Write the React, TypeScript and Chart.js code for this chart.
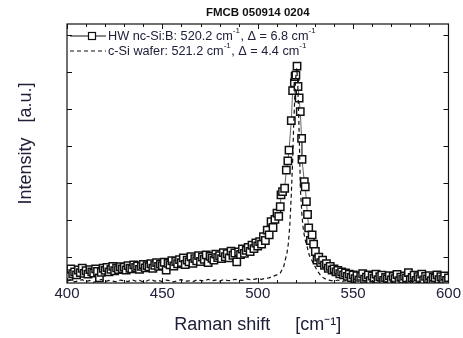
import React, { useEffect, useRef } from 'react';
import { Chart, registerables } from 'chart.js';

Chart.register(...registerables);

const TITLE = 'FMCB 050914 0204';
const X_TITLE = 'Raman shift     [cm\u207B\u00B9]';
const Y_TITLE = '    Intensity   [a.u.]';
const X_MIN = 400;
const X_MAX = 600;
const X_TICK_STEP = 50;
const X_MINOR_STEP = 10;
const Y_MIN = 0;
const Y_MAX = 7;
const Y_TICKS = [0.7, 1.7, 2.7, 3.7, 4.7, 5.7, 6.7];

const LEGEND_HW = ['HW nc-Si:B: 520.2 cm', '-1', ', \u0394 = 6.8 cm', '-1'];
const LEGEND_SI = ['c-Si wafer: 521.2 cm', '-1', ', \u0394 = 4.4 cm', '-1'];

const hwShift = [
  400, 401, 402, 403, 404, 405, 406, 407, 408, 409,
  410, 411, 412, 413, 414, 415, 416, 417, 418, 419,
  420, 421, 422, 423, 424, 425, 426, 427, 428, 429,
  430, 431, 432, 433, 434, 435, 436, 437, 438, 439,
  440, 441, 442, 443, 444, 445, 446, 447, 448, 449,
  450, 451, 452, 453, 454, 455, 456, 457, 458, 459,
  460, 461, 462, 463, 464, 465, 466, 467, 468, 469,
  470, 471, 472, 473, 474, 475, 476, 477, 478, 479,
  480, 481, 482, 483, 484, 485, 486, 487, 488, 489,
  490, 491, 492, 493, 494, 495, 496, 497, 498, 499,
  500, 501, 502, 503, 504, 505, 506, 507, 508, 509,
  510.1, 511.0, 511.8, 512.2, 513.0, 514.1, 515.0, 515.8, 516.4, 517.6,
  518.3, 519.2, 519.6, 520.0, 520.6, 521.1, 521.7, 522.3, 523.0, 523.2,
  524.4, 524.9, 525.5, 526.1, 526.7, 527.6, 528.5, 529.3, 530.2, 531.1,
  532, 533, 534, 535, 536, 537, 538, 539, 540, 541,
  542, 543, 544, 545, 546, 547, 548, 549, 550,
  551, 552, 553, 554, 555, 556, 557, 558, 559, 560,
  561, 562, 563, 564, 565, 566, 567, 568, 569, 570,
  571, 572, 573, 574, 575, 576, 577, 578, 579, 580,
  581, 582, 583, 584, 585, 586, 587, 588, 589, 590,
  591, 592, 593, 594, 595, 596, 597, 598, 599, 600,
];

const hwIntensity = [
  0.32, 0.18, 0.38, 0.25, 0.30, 0.22, 0.35, 0.28, 0.40, 0.26,
  0.33, 0.24, 0.36, 0.30, 0.27, 0.38, 0.31, 0.14, 0.29, 0.40,
  0.34, 0.42, 0.30, 0.37, 0.45, 0.33, 0.41, 0.36, 0.44, 0.38,
  0.43, 0.35, 0.47, 0.40, 0.38, 0.49, 0.42, 0.46, 0.37, 0.45,
  0.50, 0.41, 0.47, 0.44, 0.52, 0.40, 0.48, 0.55, 0.45, 0.51,
  0.47, 0.56, 0.35, 0.53, 0.49, 0.60, 0.46, 0.58, 0.52, 0.63,
  0.55, 0.68, 0.50, 0.62, 0.57, 0.71, 0.53, 0.66, 0.60, 0.74,
  0.58, 0.70, 0.64, 0.76, 0.55, 0.72, 0.67, 0.62, 0.78, 0.69,
  0.74, 0.66, 0.82, 0.71, 0.79, 0.68, 0.86, 0.75, 0.81, 0.57,
  0.84, 0.77, 0.92, 0.80, 0.88, 0.96, 0.85, 1.02, 0.93, 1.08,
  1.00, 1.12, 1.05, 1.25, 1.15, 1.43, 1.30, 1.66, 1.50, 1.72,
  1.89, 1.80, 2.06, 2.38, 2.47, 2.56, 3.05, 3.30, 3.59, 4.39,
  5.20, 5.41, 5.58, 5.62, 5.86, 5.31, 5.00, 4.63, 3.91, 3.34,
  2.74, 2.60, 2.20, 1.85, 1.49, 1.15, 1.30, 1.05, 0.85, 0.62,
  0.70, 0.55, 0.62, 0.48, 0.52, 0.40, 0.45, 0.35, 0.38, 0.30,
  0.34, 0.25, 0.30, 0.22, 0.27, 0.18, 0.24, 0.15, 0.22,
  0.12, 0.20, 0.08, 0.18, 0.25, 0.10, 0.16, 0.22, 0.06, 0.19,
  0.13, 0.24, 0.09, 0.17, 0.21, 0.07, 0.15, 0.11, 0.20, 0.08,
  0.18, 0.12, 0.23, 0.06, 0.16, 0.10, 0.19, 0.14, 0.28, 0.09,
  0.15, 0.21, 0.07, 0.17, 0.12, 0.24, 0.08, 0.18, 0.11, 0.20,
  0.06, 0.16, 0.13, 0.22, 0.09, 0.17, 0.10, 0.19, 0.07, 0.14,
];

const siShift = [
  400, 402, 404, 406, 408, 410, 412, 414, 416, 418,
  420, 422, 424, 426, 428, 430, 432, 434, 436, 438,
  440, 442, 444, 446, 448, 450, 452, 454, 456, 458,
  460, 462, 464, 466, 468, 470, 472, 474, 476, 478,
  480, 482, 484, 486, 488, 490, 492, 494, 496, 498,
  500, 502, 504,
  506, 508, 510, 511.8, 513.6, 514.4, 515.3, 516.0, 516.8, 517.6,
  518.3, 518.8, 519.4, 520.0, 520.4, 520.9, 521.4, 521.9, 522.4, 523.2,
  524.0, 524.9, 525.8, 527.0, 529.0, 531.0, 533.0, 534.4, 536.0,
  538, 540, 542, 544, 546, 548, 550, 552, 554, 556,
  558, 560, 562, 564, 566, 568, 570, 572, 574, 576,
  578, 580, 582, 584, 586, 588, 590, 592, 594, 596,
  598, 600,
];

const siIntensity = [
  0.05, 0.08, 0.03, 0.06, 0.09, 0.04, 0.07, 0.02, 0.06, 0.10,
  0.04, 0.07, 0.05, 0.03, 0.08, 0.06, 0.04, 0.09, 0.05, 0.07,
  0.03, 0.06, 0.10, 0.05, 0.07, 0.04, 0.08, 0.06, 0.03, 0.07,
  0.09, 0.05, 0.06, 0.04, 0.08, 0.07, 0.05, 0.10, 0.06, 0.08,
  0.05, 0.09, 0.07, 0.06, 0.10, 0.08, 0.07, 0.11, 0.09, 0.10,
  0.12, 0.10, 0.13,
  0.14, 0.18, 0.22, 0.27, 0.44, 0.62, 0.80, 1.05, 1.55, 2.40,
  3.30, 4.20, 5.00, 5.60, 5.80, 5.50, 4.70, 3.60, 2.50, 1.80,
  1.40, 1.16, 1.00, 0.75, 0.55, 0.35, 0.20, 0.14, 0.09,
  0.07, 0.05, 0.08, 0.04, 0.06, 0.03, 0.07, 0.05, 0.04, 0.06,
  0.03, 0.05, 0.07, 0.04, 0.06, 0.03, 0.05, 0.04, 0.06, 0.03,
  0.05, 0.07, 0.04, 0.05, 0.03, 0.06, 0.04, 0.05, 0.03, 0.06,
  0.04, 0.05,
];

const FONT = '"Liberation Sans", Arial, Helvetica, sans-serif';
const TEXT_COLOR = '#20203a';

function drawRichText(ctx: CanvasRenderingContext2D, parts: string[], x: number, y: number, size: number) {
  let cx = x;
  parts.forEach((p, i) => {
    const sup = i % 2 === 1;
    ctx.font = `${sup ? Math.round(size * 0.62) : size}px ${FONT}`;
    ctx.textBaseline = 'middle';
    ctx.fillText(p, cx, sup ? y - size * 0.38 : y);
    cx += ctx.measureText(p).width + (sup ? 0.5 : 0);
  });
}

const framePlugin = {
  id: 'frameTicksLegend',
  afterDatasetsDraw(chart: any) {
    const { ctx, chartArea: a, scales } = chart;
    const xs = scales.x;
    const ys = scales.y;
    ctx.save();
    ctx.strokeStyle = '#111';
    ctx.lineWidth = 1.2;
    ctx.strokeRect(a.left, a.top, a.right - a.left, a.bottom - a.top);
    ctx.lineWidth = 1;
    ctx.beginPath();
    for (let v = X_MIN; v <= X_MAX; v += X_MINOR_STEP) {
      const px = Math.round(xs.getPixelForValue(v)) + 0.5;
      const len = v % X_TICK_STEP === 0 ? 5 : 3;
      ctx.moveTo(px, a.bottom);
      ctx.lineTo(px, a.bottom - len);
      ctx.moveTo(px, a.top);
      ctx.lineTo(px, a.top + len);
    }
    Y_TICKS.forEach((v) => {
      const py = Math.round(ys.getPixelForValue(v)) + 0.5;
      ctx.moveTo(a.left, py);
      ctx.lineTo(a.left + 5, py);
      ctx.moveTo(a.right, py);
      ctx.lineTo(a.right - 5, py);
    });
    ctx.stroke();

    // title, centred over the plot area
    ctx.fillStyle = '#111';
    ctx.font = `bold 11.5px ${FONT}`;
    ctx.textAlign = 'center';
    ctx.textBaseline = 'middle';
    ctx.fillText(TITLE, (a.left + a.right) / 2, 13);
    ctx.textAlign = 'left';

    // legend
    const lx0 = a.left + 3;
    const lx1 = a.left + 39;
    const ty = 36;
    const ty2 = 51;
    ctx.strokeStyle = '#111';
    ctx.lineWidth = 1.2;
    ctx.beginPath();
    ctx.moveTo(lx0, ty);
    ctx.lineTo(lx1, ty);
    ctx.stroke();
    ctx.fillStyle = '#fff';
    ctx.fillRect(a.left + 21.5, ty - 3.5, 7, 7);
    ctx.strokeRect(a.left + 21.5, ty - 3.5, 7, 7);
    ctx.setLineDash([4, 3]);
    ctx.beginPath();
    ctx.moveTo(lx0, ty2);
    ctx.lineTo(lx1, ty2);
    ctx.stroke();
    ctx.setLineDash([]);
    ctx.fillStyle = TEXT_COLOR;
    drawRichText(ctx, LEGEND_HW, a.left + 41, ty, 12.7);
    drawRichText(ctx, LEGEND_SI, a.left + 41, ty2, 12.7);
    ctx.restore();
  },
};

export default function App() {
  const ref = useRef<HTMLCanvasElement | null>(null);

  useEffect(() => {
    const canvas = ref.current;
    if (!canvas) return;
    const chart = new Chart(canvas, {
      type: 'line',
      data: {
        datasets: [
          {
            label: 'c-Si wafer',
            data: siShift.map((x, i) => ({ x, y: siIntensity[i] })),
            borderColor: '#111',
            borderWidth: 1.2,
            borderDash: [4, 3],
            pointRadius: 0,
            fill: false,
            tension: 0,
            order: 0,
          },
          {
            label: 'HW nc-Si:B',
            data: hwShift.map((x, i) => ({ x, y: hwIntensity[i] })),
            borderColor: '#666',
            borderWidth: 1,
            pointStyle: 'rect',
            pointRadius: 5.2,
            pointBorderWidth: 1.5,
            pointBorderColor: '#111',
            pointBackgroundColor: '#fff',
            fill: false,
            tension: 0,
            order: 1,
          },
        ],
      },
      options: {
        animation: false,
        responsive: false,
        layout: { padding: { left: 0, right: 14, top: 24, bottom: 0 } },
        plugins: {
          legend: { display: false },
          tooltip: { enabled: false },
          title: { display: false },
        },
        scales: {
          x: {
            type: 'linear',
            min: X_MIN,
            max: X_MAX,
            afterFit: (s: any) => {
              s.height = 55;
            },
            ticks: {
              stepSize: X_TICK_STEP,
              color: TEXT_COLOR,
              font: { family: FONT, size: 15 },
              padding: 2,
              maxRotation: 0,
            },
            grid: { display: false, drawTicks: false },
            border: { display: false },
            title: {
              display: true,
              text: X_TITLE,
              color: TEXT_COLOR,
              font: { family: FONT, size: 18 },
              padding: { top: 0, bottom: 2.5 },
            },
          },
          y: {
            type: 'linear',
            min: Y_MIN,
            max: Y_MAX,
            afterFit: (s: any) => {
              s.width = 67;
            },
            ticks: { display: false },
            grid: { display: false, drawTicks: false },
            border: { display: false },
            title: {
              display: true,
              text: Y_TITLE,
              color: TEXT_COLOR,
              font: { family: FONT, size: 18 },
              padding: { top: 15, bottom: 0 },
            },
          },
        },
      },
      plugins: [framePlugin],
    });
    return () => chart.destroy();
  }, []);

  return (
    <div style={{ position: 'fixed', left: 0, top: 0, width: 463, height: 338, background: '#fff' }}>
      <canvas ref={ref} width={463} height={338} />
    </div>
  );
}
